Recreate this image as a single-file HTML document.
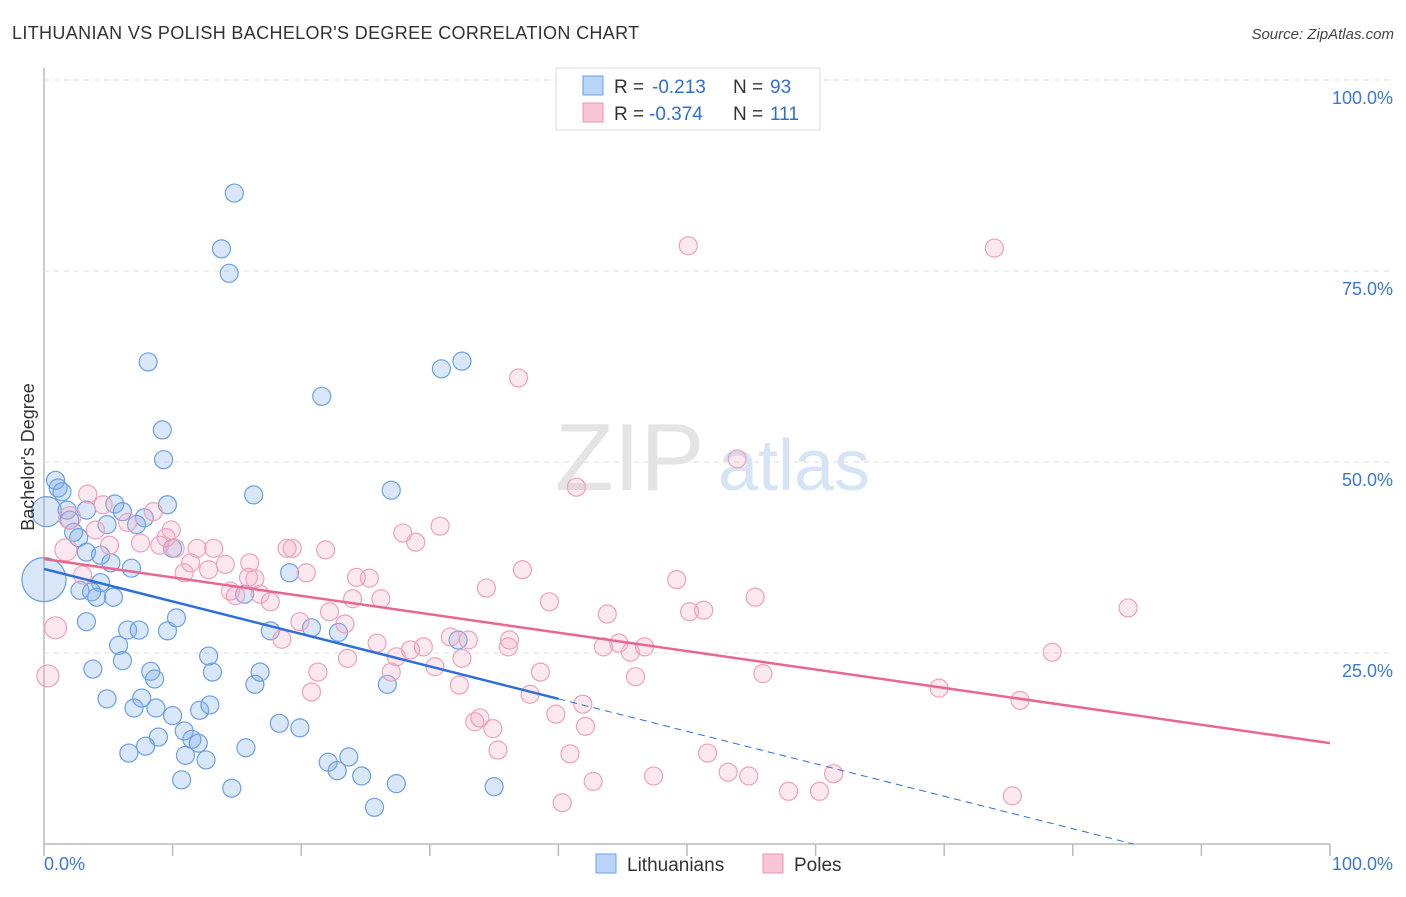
<!DOCTYPE html>
<html><head><meta charset="utf-8"><style>
body{margin:0;background:#fff;font-family:"Liberation Sans",sans-serif;}
svg text{font-family:"Liberation Sans",sans-serif;}
</style></head><body>
<svg id="chart" width="1406" height="892" viewBox="0 0 1406 892" xmlns="http://www.w3.org/2000/svg">
<text x="12" y="39" font-size="18" fill="#333" letter-spacing="0.35">LITHUANIAN VS POLISH BACHELOR'S DEGREE CORRELATION CHART</text>
<text x="1394" y="39" font-size="15" fill="#444" text-anchor="end" font-style="italic">Source: ZipAtlas.com</text>
<g id="grid"></g>
<text x="555" y="490" font-size="96" fill="#e4e4e4" font-family="Liberation Serif, serif">ZIP</text>
<text x="718" y="490" font-size="72" fill="#d6e4f5">atlas</text>
<g id="pts"></g>
<g id="lines"></g>
<text transform="translate(34,457) rotate(-90)" font-size="18" fill="#333" text-anchor="middle">Bachelor's Degree</text>
<g>
<rect x="556" y="68" width="264" height="62" fill="#fff" stroke="#ddd"/>
<rect x="583" y="76" width="20" height="19" fill="#b8d4f7" stroke="#6aa0e8"/>
<rect x="583" y="103" width="20" height="19" fill="#f9c6d6" stroke="#ef93b1"/>
<text x="614" y="93" font-size="19" fill="#333">R =</text>
<text x="652" y="93" font-size="19" fill="#2f6fd6">-0.213</text>
<text x="733" y="93" font-size="19" fill="#333">N =</text>
<text x="770" y="93" font-size="19" fill="#2f6fd6">93</text>
<text x="614" y="120" font-size="19" fill="#333">R =</text>
<text x="649" y="120" font-size="19" fill="#2f6fd6">-0.374</text>
<text x="733" y="120" font-size="19" fill="#333">N =</text>
<text x="770" y="120" font-size="19" fill="#2f6fd6">111</text>
</g>
<g>
<rect x="596" y="854" width="20" height="19" fill="#b8d4f7" stroke="#6aa0e8"/>
<text x="627" y="871" font-size="19" fill="#333">Lithuanians</text>
<rect x="763" y="854" width="20" height="19" fill="#f9c6d6" stroke="#ef93b1"/>
<text x="794" y="871" font-size="19" fill="#333">Poles</text>
</g>
<text x="44" y="870" font-size="18" fill="#3b78d8">0.0%</text>
<text x="1393" y="870" font-size="18" fill="#3b78d8" text-anchor="end">100.0%</text>
</svg>
<script>
const yTicks=[25,50,75,100];
const yTickLabels=["25.0%","50.0%","75.0%","100.0%"];
const blueX=[14.8,13.8,14.4,8.1,32.5,30.9,21.6,9.2,9.3,27.0,16.3,9.6,0.9,1.1,1.4,1.8,2.0,2.3,2.7,3.3,4.4,4.4,5.2,6.8,5.5,6.1,7.8,4.9,7.2,10.0,19.1,15.6,2.8,3.7,4.1,5.4,3.3,6.5,7.4,9.6,10.3,17.6,22.9,32.2,20.8,5.8,6.1,3.8,8.3,8.6,12.8,13.1,16.8,16.4,26.7,4.9,7.6,7.0,8.7,10.0,12.1,12.9,18.3,19.9,10.9,8.9,7.9,11.5,12.0,6.6,11.0,12.6,15.7,22.1,23.7,22.8,24.7,27.4,10.7,14.6,35.0,25.7,0,0.2,3.3];
const blueY=[85.2,77.9,74.7,63.1,63.2,62.2,58.6,54.2,50.3,46.3,45.7,44.4,47.6,46.6,46.1,43.7,42.4,40.8,40.1,38.2,37.8,34.2,36.8,36.1,44.5,43.5,42.7,41.8,41.8,38.7,35.5,32.7,33.2,33.0,32.3,32.3,29.1,28.0,28.0,27.9,29.6,27.9,27.7,26.7,28.3,26.0,24.0,22.9,22.6,21.6,24.6,22.5,22.5,20.9,20.9,19.0,19.1,17.8,17.8,16.8,17.5,18.2,15.8,15.2,14.8,14.0,12.8,13.7,13.2,11.9,11.6,11.0,12.6,10.7,11.4,9.6,8.9,7.9,8.4,7.3,7.5,4.8,34.6,43.5,43.7];
const pinkX=[50.1,73.9,36.9,53.9,41.4,3.4,4.6,2.0,1.7,3.0,0.9,0.3,6.5,8.5,9.9,10.2,7.5,9.0,9.5,11.9,13.2,14.1,12.8,10.9,11.4,14.5,16.4,16.0,15.9,14.9,16.8,17.6,18.9,19.3,20.4,21.9,27.9,30.8,28.9,24.3,25.3,24.0,26.2,34.4,37.2,39.3,43.8,49.2,51.3,50.2,55.3,84.3,19.9,22.2,23.4,25.9,23.6,18.5,21.3,20.8,27.0,27.4,28.5,29.5,30.4,31.6,32.5,33.0,36.2,36.1,38.6,43.5,44.7,45.6,46.7,46.0,55.9,69.6,78.4,75.9,41.9,37.8,39.8,42.1,33.5,33.9,34.9,35.3,40.9,51.6,53.2,54.8,47.4,42.7,61.4,57.9,60.3,40.3,75.3,32.3,4.0,5.1];
const pinkY=[78.3,78.0,61.0,50.4,46.7,45.8,44.4,42.7,38.5,35.2,28.3,22.0,42.1,43.5,41.1,38.7,39.4,39.1,40.1,38.7,38.7,36.6,35.9,35.5,36.8,33.1,34.7,36.8,34.9,32.5,32.7,31.7,38.7,38.7,35.5,38.5,40.7,41.6,39.5,34.9,34.8,32.1,32.1,33.5,35.9,31.7,30.1,34.6,30.6,30.4,32.3,30.9,29.1,30.4,28.8,26.3,24.3,26.8,22.5,19.9,22.5,24.5,25.4,25.8,23.2,27.1,24.3,26.7,26.7,25.8,22.5,25.8,26.3,25.1,25.8,21.9,22.3,20.4,25.1,18.8,18.3,19.6,17.0,15.4,16.0,16.5,15.1,12.3,11.8,11.9,9.4,8.9,8.9,8.2,9.2,6.9,6.9,5.4,6.3,20.8,41.1,39.1];
const blueTrend=[36.0,-0.425];
const pinkTrend=[37.3,-0.241];
const X=v=>44+v*12.86, Y=v=>844-v*7.64;
const NS="http://www.w3.org/2000/svg";
function mk(t,a,p){const e=document.createElementNS(NS,t);for(const k in a)e.setAttribute(k,a[k]);p.appendChild(e);return e;}
const grid=document.getElementById('grid');
mk('line',{x1:44,y1:68,x2:44,y2:844,stroke:'#bbb','stroke-width':1.5},grid);
mk('line',{x1:44,y1:844,x2:1330,y2:844,stroke:'#bbb','stroke-width':1.5},grid);
for(let i=0;i<=10;i++){mk('line',{x1:X(i*10),y1:844,x2:X(i*10),y2:856,stroke:'#bbb','stroke-width':1.5},grid);}
yTicks.forEach((t,i)=>{
 mk('line',{x1:44,y1:Y(t),x2:1394,y2:Y(t),stroke:'#ddd','stroke-dasharray':'5,5'},grid);
 const tx=mk('text',{x:1393,y:Y(t)+24,'font-size':18,fill:'#3b78d8','text-anchor':'end'},grid);
 
 
 tx.textContent=yTickLabels[i];
});
const pts=document.getElementById('pts');
blueX.forEach((x,i)=>{
 let r=9; if(i===blueX.length-3) r=22; if(i===blueX.length-2) r=15;
 const c=mk('circle',{cx:X(blueX[i]),cy:Y(blueY[i]),r:r,fill:'rgba(120,170,235,0.28)',stroke:'#6aa0e6','stroke-width':1.2},pts);
 
 
});
pinkX.forEach((x,i)=>{
 let r=9; if(x<2.5) r=11;
 const c=mk('circle',{cx:X(pinkX[i]),cy:Y(pinkY[i]),r:r,fill:'rgba(245,170,195,0.26)',stroke:'#f0a0bb','stroke-width':1.2},pts);
 
 
});
const lines=document.getElementById('lines');
const bEnd=40, bZero=-blueTrend[0]/blueTrend[1];
const l1=mk('line',{x1:X(0),y1:Y(blueTrend[0]),x2:X(bEnd),y2:Y(blueTrend[0]+blueTrend[1]*bEnd),stroke:'#2f6fd6','stroke-width':2.5},lines);


const l2=mk('line',{x1:X(bEnd),y1:Y(blueTrend[0]+blueTrend[1]*bEnd),x2:X(bZero),y2:Y(0),stroke:'#2f6fd6','stroke-width':1,'stroke-dasharray':'7,5'},lines);


const l3=mk('line',{x1:X(0),y1:Y(pinkTrend[0]),x2:X(100),y2:Y(pinkTrend[0]+pinkTrend[1]*100),stroke:'#e8678f','stroke-width':2.5},lines);


</script>
</body></html>
